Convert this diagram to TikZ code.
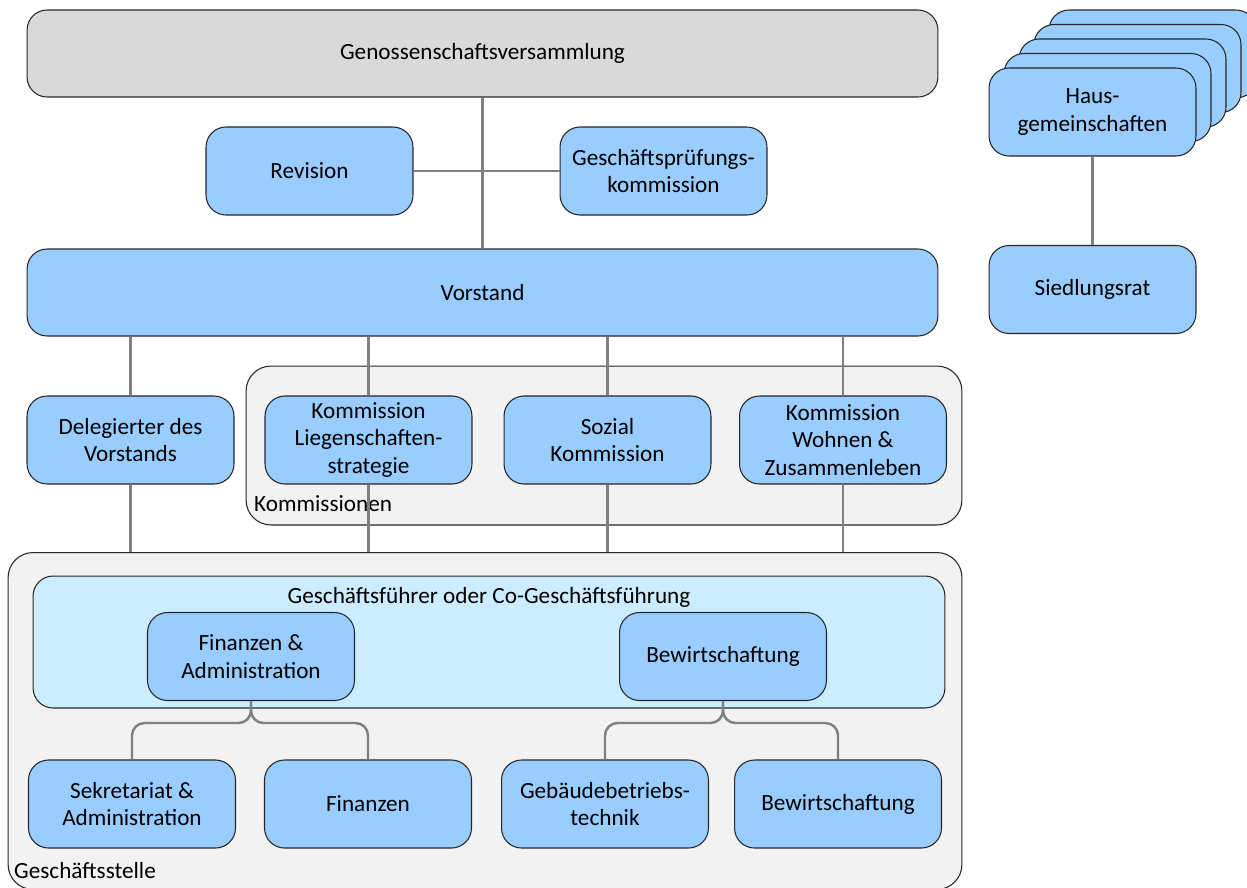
\documentclass[tikz,border=0pt]{standalone}
\usepackage{fontspec}
\setmainfont{Carlito}
\usepackage{xcolor}
\usetikzlibrary{positioning}
\definecolor{boxblue}{HTML}{99CCFF}
\definecolor{gfblue}{HTML}{CCECFF}
\definecolor{areagray}{HTML}{F2F2F2}
\definecolor{topgray}{HTML}{D9D9D9}
\definecolor{linegray}{HTML}{808080}
\tikzset{
	box/.style={draw=black!85, line width=0.6pt, fill=boxblue, rounded corners=0.4cm,
		minimum width=4.14cm, minimum height=1.76cm, align=center, inner sep=2pt},
	widebox/.style={box, minimum width=18.22cm, minimum height=1.74cm},
	area/.style={draw=black!85, line width=0.6pt, fill=areagray, rounded corners=0.5cm, inner sep=0pt},
	link/.style={draw=linegray, line width=1.4pt},
}

\begin{document}
\begin{tikzpicture}[x=0.02cm, y=-0.02cm, font=\fontsize{13.2}{15.6}\selectfont]
	\useasboundingbox (0,0) rectangle (1247,887);
	% containers
	\node[area, minimum width=14.32cm, minimum height=3.18cm] (komm) at (604,445.5) {};
	\node[anchor=west] (kommlbl) at (248,504) {Kommissionen};
	\node[area, minimum width=19.08cm, minimum height=6.74cm] (gs) at (485,721) {};
	\node[anchor=west] (gslbl) at (8,871) {Geschäftsstelle};
	\node[area, fill=gfblue, rounded corners=0.4cm, minimum width=18.24cm, minimum height=2.64cm] (gf) at (489,642) {};
	\node (gflbl) at (489,597) {Geschäftsführer oder Co-Geschäftsführung};

	% top level
	\node[widebox, fill=topgray] (gv) at (482.5,53.5) {Genossenschaftsversammlung};
	\node[box] (rev) at (309.5,171) {Revision};
	\node[box] (gpk) at (663.5,171) {Geschäftsprüfungs-\\kommission};
	\node[widebox] (vst) at (482.5,292.5) {Vorstand};
	\foreach \i in {4,3,2,1}
		\node[box] at (1092.5+15*\i,112-14.5*\i) {};
	\node[box] (haus) at (1092.5,112) {Haus-\\gemeinschaften};
	\node[box] (sr) at (1092.5,289.5) {Siedlungsrat};

	% delegierter und kommissionen
	\node[box] (del) at (130.5,440) {Delegierter des\\Vorstands};
	\node[box] (kls) at (368.5,440) {Kommission\\Liegenschaften-\\strategie};
	\node[box] (soz) at (607.5,440) {Sozial\\Kommission};
	\node[box] (kwz) at (843,440) {Kommission\\Wohnen \&\\Zusammenleben};

	% geschaeftsstelle
	\node[box] (fa) at (251,656.5) {Finanzen \&\\Administration};
	\node[box] (bew) at (723,656.5) {Bewirtschaftung};
	\node[box] (sek) at (132,804) {Sekretariat \&\\Administration};
	\node[box] (fin) at (368,804) {Finanzen};
	\node[box] (geb) at (605,804) {Gebäudebetriebs-\\technik};
	\node[box] (bew2) at (838,804) {Bewirtschaftung};

	% connectors
	\draw[link] (gv) -- (vst);
	\draw[link] (rev) -- (gpk);
	\draw[link] (haus) -- (sr);
	\foreach \n in {del,kls,soz,kwz} {
		\draw[link] (vst.south -| \n) -- (\n);
		\draw[link] (\n) -- (\n |- gs.north);
	}
	\coordinate (fasplit) at (251,723);
	\coordinate (bewsplit) at (723,723);
	\draw[link, rounded corners=0.25cm] (fa) -- (fasplit) -| (sek);
	\draw[link, rounded corners=0.25cm] (fa) -- (fasplit) -| (fin);
	\draw[link, rounded corners=0.25cm] (bew) -- (bewsplit) -| (geb);
	\draw[link, rounded corners=0.25cm] (bew) -- (bewsplit) -| (bew2);
\end{tikzpicture}
\end{document}
